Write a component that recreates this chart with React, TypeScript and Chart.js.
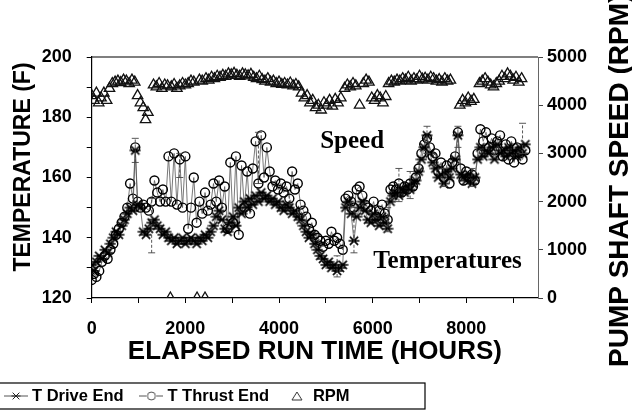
import React, { useEffect, useRef } from "react";
import { Chart, registerables } from "chart.js";

Chart.register(...registerables);

// ---------- data ----------
const tempHours = [
  0, 50, 100, 160, 220, 280, 340, 400, 460, 520, 580, 640, 700, 760, 820, 880, 930, 980, 1040, 1100,
  1160, 1220, 1280, 1340, 1400, 1460, 1520, 1580, 1640, 1700, 1760, 1820, 1880, 1940, 2000, 2060, 2120, 2180, 2240, 2300,
  2360, 2420, 2480, 2540, 2600, 2660, 2720, 2780, 2840, 2900, 2960, 3020, 3080, 3140, 3200, 3260, 3320, 3380, 3440, 3500,
  3560, 3620, 3680, 3740, 3800, 3860, 3920, 3980, 4040, 4100, 4160, 4220, 4280, 4340, 4400, 4460, 4520, 4580, 4640, 4700,
  4760, 4820, 4880, 4940, 5000, 5060, 5120, 5180, 5240, 5300, 5360, 5420, 5480, 5540, 5600, 5660, 5720, 5780, 5840, 5900,
  5960, 6020, 6080, 6140, 6200, 6260, 6320, 6380, 6440, 6500, 6560, 6620, 6680, 6740, 6800, 6860, 6920, 6980, 7040, 7100,
  7160, 7220, 7280, 7340, 7400, 7460, 7520, 7580, 7640, 7700, 7760, 7820, 7880, 7940, 8000, 8060, 8120, 8180, 8240, 8300,
  8360, 8420, 8480, 8540, 8600, 8660, 8720, 8780, 8840, 8900, 8960, 9020, 9080, 9140, 9200, 9260,
];
const driveEnd = [
  131, 129, 132, 134, 133, 136, 135, 138, 140, 142, 141, 144, 146, 148, 150, 149, 169, 151, 150, 142,
  141, 143, 145, 146, 144, 143, 141, 142, 140, 139, 140, 138, 139, 140, 138, 139, 140, 139, 138, 140,
  139, 141, 140, 142, 144, 147, 149, 146, 143, 142, 145, 147, 144, 150, 148, 152, 150, 153, 151, 154,
  152, 155, 153, 154, 152, 153, 151, 152, 150, 149, 151, 150, 148, 149, 147, 146, 144, 142, 140, 141,
  138, 136, 134, 133, 131, 132, 130, 131, 129, 130, 131, 150, 152, 148, 139, 147, 150, 152, 149, 146,
  145, 148, 146, 144, 147, 145, 143, 152, 154, 155, 154, 156, 155, 157, 156, 158, 159, 162, 166, 170,
  174, 168, 165, 163, 160, 161, 158, 162, 160, 163, 166, 174, 161, 160, 159, 161, 158, 160, 166, 170,
  167, 169, 168, 170, 166, 171, 168, 169, 167, 170, 168, 169, 167, 170, 168, 171,
];
const thrustEnd = [
  126, 128, 127, 129, 132, 134, 133, 136, 138, 141, 143, 145, 147, 150, 158, 153, 170, 152, 150, 151,
  150, 149, 152, 159, 155, 152, 156, 152, 167, 152, 168, 151, 166, 150, 167, 143, 150, 160, 145, 152,
  148, 155, 149, 151, 158, 152, 159, 150, 157, 143, 165, 145, 167, 141, 164, 150, 162, 148, 163, 172,
  158, 174, 160, 170, 162, 157, 159, 156, 158, 155, 157, 153, 162, 156, 158, 151, 149, 147, 143, 145,
  141, 140, 139, 137, 139, 138, 142, 139, 140, 138, 136, 153, 154, 152, 150, 156, 157, 154, 151, 150,
  149, 152, 147, 149, 151, 148, 146, 156, 157, 156, 158, 155, 157, 156, 158, 157, 160, 163, 168, 171,
  173, 170, 167, 168, 162, 165, 160, 164, 158, 165, 167, 175, 163, 159, 162, 160, 161, 159, 168, 176,
  172, 175, 170, 173, 169, 172, 174, 167, 171, 166, 172, 165, 170, 168, 166, 169,
];
// visible error bars on the temperature readings (hours, low, high)
const errHours = [930, 1280, 1880, 3560, 5240, 5600, 6320, 6560, 6800, 7160, 7520, 7820, 8120, 9200];
const errLow = [165, 135, 160, 158, 127, 135, 142, 152, 153, 168, 157, 170, 157, 168];
const errHigh = [173, 153, 168, 175, 134, 150, 150, 163, 162, 177, 163, 177, 163, 178];

const rpmHours = [
  0, 50, 100, 150, 200, 260, 320, 380, 440, 500, 560, 620, 680, 740, 800, 860, 920, 980, 1040, 1100,
  1150, 1200, 1320, 1380, 1440, 1500, 1560, 1620, 1680, 1700, 1760, 1820, 1880, 1940, 2000, 2060, 2120, 2180, 2250, 2300,
  2360, 2420, 2440, 2500, 2560, 2620, 2680, 2740, 2800, 2860, 2920, 2980, 3040, 3100, 3160, 3220, 3280, 3340, 3400, 3460,
  3520, 3580, 3640, 3700, 3760, 3820, 3880, 3940, 4000, 4060, 4120, 4180, 4240, 4300, 4360, 4420, 4480, 4540, 4600, 4660,
  4720, 4780, 4840, 4900, 4960, 5020, 5080, 5140, 5200, 5260, 5320, 5400, 5460, 5520, 5580, 5640, 5720, 5800, 5860, 5920,
  5980, 6040, 6100, 6160, 6220, 6280, 6340, 6400, 6460, 6520, 6580, 6640, 6700, 6760, 6820, 6880, 6940, 7000, 7060, 7120,
  7180, 7240, 7300, 7360, 7420, 7480, 7540, 7600, 7660, 7860, 7920, 7980, 8040, 8100, 8160, 8280, 8340, 8400, 8460, 8520,
  8580, 8640, 8700, 8760, 8820, 8880, 8940, 9000, 9060, 9120, 9180,
];
const rpmValues = [
  4200, 4100, 4250, 4050, 4150, 4250, 4100, 4350, 4450, 4480, 4500, 4470, 4520, 4500, 4450, 4520, 4480, 4200, 4050, 3950,
  3700, 3850, 4420, 4380, 4450, 4350, 4420, 4400, 0, 4380, 4430, 4350, 4400, 4450, 4420, 4450, 4500, 4480, 0, 4520,
  4500, 0, 4550, 4520, 4580, 4550, 4600, 4580, 4620, 4600, 4650, 4630, 4660, 4620, 4600, 4650, 4630, 4610, 4640, 4580,
  4550, 4600, 4530, 4500, 4550, 4480, 4500, 4450, 4480, 4430, 4450, 4420, 4460, 4400, 4430, 4380, 4250, 4150, 4200, 4050,
  4100, 3950, 4000, 3900, 4050, 4000, 4100, 3980, 4120, 4050, 4150, 4350, 4420, 4380, 4450, 4400, 4000, 4450, 4520, 4480,
  4150, 4100, 4200, 4150, 4050, 4180, 4450, 4500, 4480, 4520, 4500, 4550, 4520, 4580, 4500, 4550, 4520, 4600, 4540, 4560,
  4520, 4580, 4550, 4500, 4530, 4480, 4550, 4500, 4520, 4000, 4100, 4050, 4150, 4080, 4120, 4450, 4500, 4550, 4480, 4420,
  4380, 4450, 4500, 4600, 4550, 4650, 4600, 4520, 4580, 4480, 4550,
];
const xTickValues = [0, 1000, 2000, 3000, 4000, 5000, 6000, 7000, 8000, 9000];
const xTickLabels = ["0", "", "2000", "", "4000", "", "6000", "", "8000", ""];
const legendLabels = ["T Drive End", "T Thrust End", "RPM"];
const xTitle = "ELAPSED RUN TIME (HOURS)";
const yTitle = "TEMPERATURE (F)";
const y1Title = "PUMP SHAFT SPEED (RPM)";
const notes = [
  { text: "Speed", x: 4878, y: 169.8 },
  { text: "Temperatures", x: 6011, y: 129.9 },
];

const SANS = "'Liberation Sans', Arial, sans-serif";
const SERIF = "'Liberation Serif', 'Times New Roman', serif";

function mk(w: number, h: number, draw: (c: CanvasRenderingContext2D) => void) {
  const c = document.createElement("canvas");
  c.width = w;
  c.height = h;
  const ctx = c.getContext("2d")!;
  draw(ctx);
  return c;
}

function starMarker(ctx: CanvasRenderingContext2D, cx: number, cy: number, r: number) {
  ctx.beginPath();
  ctx.moveTo(cx - r * 0.75, cy - r * 0.75);
  ctx.lineTo(cx + r * 0.75, cy + r * 0.75);
  ctx.moveTo(cx + r * 0.75, cy - r * 0.75);
  ctx.lineTo(cx - r * 0.75, cy + r * 0.75);
  ctx.moveTo(cx - r, cy);
  ctx.lineTo(cx + r, cy);
  ctx.stroke();
}

export default function App() {
  const ref = useRef<HTMLCanvasElement | null>(null);

  useEffect(() => {
    if (!ref.current) return;

    const starImg = mk(12, 12, (c) => {
      c.strokeStyle = "#000";
      c.lineWidth = 1.6;
      starMarker(c, 6, 6, 5.5);
    });
    const legDrive = mk(24, 12, (c) => {
      c.strokeStyle = "#555";
      c.lineWidth = 1;
      c.beginPath();
      c.moveTo(0, 6);
      c.lineTo(24, 6);
      c.stroke();
      c.strokeStyle = "#222";
      starMarker(c, 12, 6, 4.5);
    });
    const legThrust = mk(24, 12, (c) => {
      c.strokeStyle = "#555";
      c.lineWidth = 1;
      c.beginPath();
      c.moveTo(0, 6);
      c.lineTo(7, 6);
      c.moveTo(17, 6);
      c.lineTo(24, 6);
      c.stroke();
      c.beginPath();
      c.arc(12, 6, 4, 0, Math.PI * 2);
      c.stroke();
    });
    const legRpm = mk(12, 12, (c) => {
      c.strokeStyle = "#333";
      c.lineWidth = 1;
      c.beginPath();
      c.moveTo(6, 2);
      c.lineTo(11, 10);
      c.lineTo(1, 10);
      c.closePath();
      c.stroke();
    });
    const legendImgs = [legDrive, legThrust, legRpm];

    const errorBars = {
      id: "errorBars",
      afterDatasetsDraw(chart: any) {
        const { ctx, scales } = chart;
        ctx.save();
        ctx.strokeStyle = "#444";
        ctx.lineWidth = 0.9;
        errHours.forEach((h, i) => {
          const x = scales.x.getPixelForValue(h);
          const y0 = scales.y.getPixelForValue(errLow[i]);
          const y1 = scales.y.getPixelForValue(errHigh[i]);
          ctx.setLineDash([3, 2]);
          ctx.beginPath();
          ctx.moveTo(x, y0);
          ctx.lineTo(x, y1);
          ctx.stroke();
          ctx.setLineDash([]);
          ctx.beginPath();
          ctx.moveTo(x - 3.5, y0);
          ctx.lineTo(x + 3.5, y0);
          ctx.moveTo(x - 3.5, y1);
          ctx.lineTo(x + 3.5, y1);
          ctx.stroke();
        });
        ctx.restore();
      },
    };

    const decor = {
      id: "decor",
      afterDraw(chart: any) {
        const { ctx, chartArea, scales } = chart;
        ctx.save();
        // top frame
        ctx.strokeStyle = "#000";
        ctx.lineWidth = 1.2;
        ctx.beginPath();
        ctx.moveTo(chartArea.left, chartArea.top);
        ctx.lineTo(chartArea.right, chartArea.top);
        ctx.stroke();
        // annotations
        ctx.fillStyle = "#000";
        ctx.font = `bold 25px ${SERIF}`;
        ctx.textAlign = "left";
        ctx.textBaseline = "alphabetic";
        notes.forEach((n) => {
          ctx.fillText(n.text, scales.x.getPixelForValue(n.x), scales.y.getPixelForValue(n.y));
        });
        // vertical titles
        ctx.textAlign = "center";
        ctx.textBaseline = "middle";
        ctx.font = `bold 23px ${SANS}`;
        ctx.save();
        ctx.translate(23.5, 167);
        ctx.rotate(-Math.PI / 2);
        ctx.fillText(yTitle, 0, 0);
        ctx.restore();
        ctx.font = `bold 28px ${SANS}`;
        const w = ctx.measureText(y1Title).width;
        ctx.save();
        ctx.translate(620, 367 - w / 2);
        ctx.rotate(-Math.PI / 2);
        ctx.fillText(y1Title, 0, 0);
        ctx.restore();
        // legend frame
        ctx.strokeStyle = "#000";
        ctx.lineWidth = 1.2;
        ctx.strokeRect(-2, 383, 427, 26);
        ctx.restore();
      },
    };

    const tickFont = { family: SANS, weight: "bold" as const, size: 18 };

    const chart = new Chart(ref.current, {
      type: "line",
      data: {
        datasets: [
          {
            label: legendLabels[0],
            data: tempHours.map((h, i) => ({ x: h, y: driveEnd[i] })),
            yAxisID: "y",
            borderColor: "#555",
            borderWidth: 0.8,
            pointStyle: starImg as any,
            pointRadius: 5,
            tension: 0,
          },
          {
            label: legendLabels[1],
            data: tempHours.map((h, i) => ({ x: h, y: thrustEnd[i] })),
            yAxisID: "y",
            borderColor: "#555",
            borderWidth: 0.8,
            pointStyle: "circle",
            pointRadius: 4.5,
            pointBorderColor: "#000",
            pointBackgroundColor: "rgba(255,255,255,0)",
            pointBorderWidth: 1.4,
            tension: 0,
          },
          {
            label: legendLabels[2],
            data: rpmHours.map((h, i) => ({ x: h, y: rpmValues[i] })),
            yAxisID: "y1",
            showLine: false,
            pointStyle: "triangle",
            pointRadius: 6,
            pointBorderColor: "#111",
            pointBackgroundColor: "rgba(255,255,255,0)",
            pointBorderWidth: 1.3,
          },
        ],
      },
      options: {
        animation: false,
        responsive: false,
        events: [],
        layout: { padding: { left: -11.75, right: 0, top: 57, bottom: -2.25 } },
        plugins: {
          tooltip: { enabled: false },
          legend: {
            position: "bottom",
            align: "start",
            labels: {
              usePointStyle: true,
              pointStyleWidth: 15.5,
              padding: 20,
              color: "#000",
              font: { family: SANS, weight: "bold", size: 16.5 },
              generateLabels: () =>
                legendLabels.map((t, i) => ({
                  text: t,
                  pointStyle: legendImgs[i] as any,
                  datasetIndex: i,
                  hidden: false,
                  fillStyle: "rgba(0,0,0,0)",
                  strokeStyle: "rgba(0,0,0,0)",
                  lineWidth: 0,
                  fontColor: "#000",
                })),
            },
          },
        },
        scales: {
          x: {
            type: "linear",
            position: "bottom",
            min: 0,
            max: 9530,
            afterFit: (s: any) => {
              s.height = 69.75;
            },
            afterBuildTicks: (s: any) => {
              s.ticks = xTickValues.map((v) => ({ value: v }));
            },
            ticks: {
              autoSkip: false,
              maxRotation: 0,
              padding: 15,
              color: "#000",
              font: tickFont,
              callback: (_v: any, i: number) => xTickLabels[i] ?? "",
            },
            grid: { drawOnChartArea: false, drawTicks: true, tickLength: 5, color: "#000" },
            border: { display: true, color: "#000", width: 1.2 },
            title: {
              display: true,
              text: xTitle,
              color: "#000",
              font: { family: SANS, weight: "bold", size: 26 },
              padding: { top: 0, bottom: 0 },
            },
          },
          y: {
            type: "linear",
            position: "left",
            min: 120,
            max: 200,
            afterFit: (s: any) => {
              s.width = 103.45;
            },
            ticks: {
              stepSize: 10,
              autoSkip: false,
              padding: 15,
              color: "#000",
              font: tickFont,
              callback: (v: any) => (Number(v) % 20 === 0 ? String(v) : ""),
            },
            grid: { drawOnChartArea: false, drawTicks: true, tickLength: 5, color: "#000" },
            border: { display: true, color: "#000", width: 1.2 },
          },
          y1: {
            type: "linear",
            position: "right",
            min: 0,
            max: 5000,
            afterFit: (s: any) => {
              s.width = 94;
            },
            ticks: {
              stepSize: 1000,
              autoSkip: false,
              padding: 4,
              color: "#000",
              font: tickFont,
              callback: (v: any) => String(v),
            },
            grid: { drawOnChartArea: false, drawTicks: true, tickLength: 5, color: "#444" },
            border: { display: true, color: "#666", width: 1, dash: [7, 3, 2, 3] },
          },
        },
      },
      plugins: [errorBars, decor],
    });

    return () => chart.destroy();
  }, []);

  return (
    <div style={{ position: "fixed", left: 0, top: 0, width: 632, height: 412, background: "#fff" }}>
      <canvas ref={ref} width={632} height={412} style={{ width: 632, height: 412 }} />
    </div>
  );
}
